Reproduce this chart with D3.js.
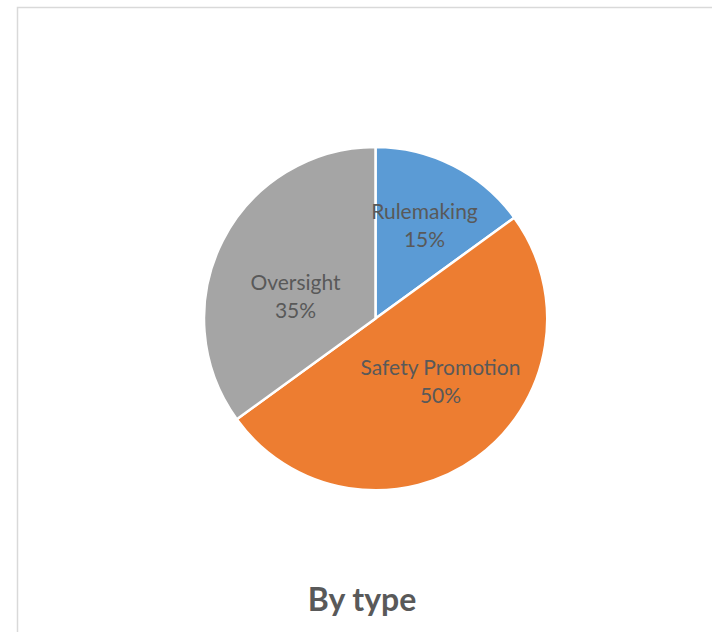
<!DOCTYPE html>
<html>
<head>
<meta charset="utf-8">
<script src="https://cdn.jsdelivr.net/npm/d3@7"></script>
<style>
  html, body { margin: 0; padding: 0; background: #fff; }
  svg { display: block; }
  text { font-family: Lato, "Open Sans", sans-serif; }
</style>
</head>
<body>
<svg id="chart" width="712" height="632"></svg>
<script>
// Share of items by type
const categories = ["Rulemaking", "Safety Promotion", "Oversight"];
const shares = [15, 50, 35];
const colors = ["#5B9BD5", "#ED7D31", "#A5A5A5"];
const title = "By type";

const width = 712, height = 632;
const cx = 375.5, cy = 318.5, radius = 171.5;

// Label placement nudges (relative to the pie centre), per category
const labelOffset = {
  "Rulemaking": [49, -93],
  "Safety Promotion": [65, 63],
  "Oversight": [-80, -22]
};

const svg = d3.select("#chart");

// chart frame
svg.append("rect")
  .attr("x", 17.5).attr("y", 7.5)
  .attr("width", width + 10).attr("height", height + 10)
  .attr("fill", "#fff")
  .attr("stroke", "#d9d9d9")
  .attr("stroke-width", 1.5);

const data = categories.map((c, i) => ({ name: c, value: shares[i], color: colors[i] }));

const pie = d3.pie().value(d => d.value).sort(null);
const arc = d3.arc().innerRadius(0).outerRadius(radius);

const g = svg.append("g").attr("transform", `translate(${cx},${cy})`);

const arcs = pie(data);

g.selectAll("path.slice")
  .data(arcs)
  .join("path")
  .attr("class", "slice")
  .attr("d", arc)
  .attr("fill", d => d.data.color)
  .attr("stroke", "#fff")
  .attr("stroke-width", 2.5)
  .attr("stroke-linejoin", "round");

const labels = g.selectAll("g.label")
  .data(arcs)
  .join("g")
  .attr("class", "label")
  .attr("transform", d => {
    const o = labelOffset[d.data.name];
    return `translate(${o[0]},${o[1]})`;
  });

labels.append("text")
  .attr("text-anchor", "middle")
  .attr("y", -7)
  .attr("font-size", 21)
  .attr("fill", "#595959")
  .text(d => d.data.name);

labels.append("text")
  .attr("text-anchor", "middle")
  .attr("y", 21)
  .attr("font-size", 21)
  .attr("fill", "#595959")
  .text(d => d3.format(".0%")(d.data.value / d3.sum(shares)));

svg.append("text")
  .attr("x", 362)
  .attr("y", 611)
  .attr("text-anchor", "middle")
  .attr("font-size", 32)
  .attr("font-weight", "bold")
  .attr("fill", "#595959")
  .text(title);
</script>
</body>
</html>
